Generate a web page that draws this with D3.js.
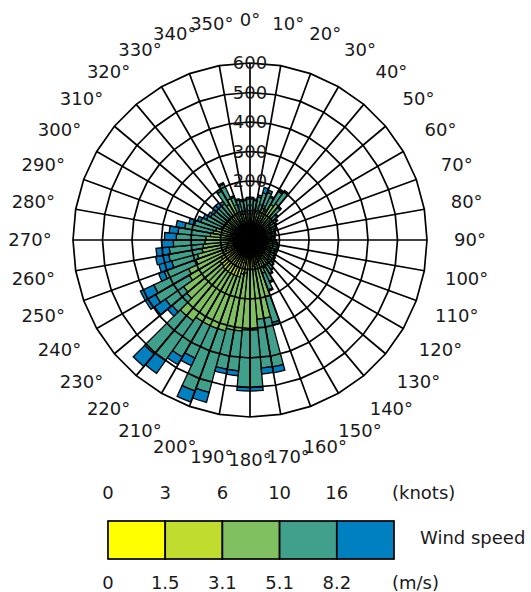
<!DOCTYPE html>
<html>
<head>
<meta charset="utf-8">
<script src="https://cdn.jsdelivr.net/npm/d3@7"></script>
<style>
  html, body { margin: 0; padding: 0; background: #fff; }
  svg { display: block; }
</style>
</head>
<body>
<div class="rose"></div>
<script>
var width = 531;
var height = 592;

// start angle of every 5 degree direction bin
var directions = [0, 5, 10, 15, 20, 25, 30, 35, 40, 45, 50, 55, 60, 65, 70, 75, 80, 85,
  90, 95, 100, 105, 110, 115, 120, 125, 130, 135, 140, 145, 150, 155, 160, 165, 170, 175,
  180, 185, 190, 195, 200, 205, 210, 215, 220, 225, 230, 235, 240, 245, 250, 255, 260, 265,
  270, 275, 280, 285, 290, 295, 300, 305, 310, 315, 320, 325, 330, 335, 340, 345, 350, 355];

// counts per speed class (0-1.5, 1.5-3.1, 3.1-5.1, 5.1-8.2, >8.2 m/s)
var speed1 = [25, 25, 25, 25, 25, 25, 25, 25, 25, 25, 25, 25, 25, 25, 25, 25, 25, 25,
  25, 25, 25, 25, 25, 25, 25, 25, 25, 28, 28, 28, 30, 30, 30, 30, 30, 35,
  35, 38, 38, 40, 40, 40, 40, 40, 40, 40, 40, 38, 35, 35, 35, 30, 30, 28,
  28, 28, 27, 27, 26, 26, 25, 25, 25, 25, 25, 25, 25, 25, 25, 25, 25, 25];
var speed2 = [30, 30, 30, 30, 35, 35, 35, 35, 30, 30, 30, 30, 30, 30, 30, 30, 28, 28,
  30, 30, 32, 32, 30, 30, 32, 33, 35, 35, 37, 40, 40, 45, 50, 55, 60, 65,
  65, 75, 80, 90, 90, 90, 90, 90, 90, 85, 85, 75, 65, 55, 50, 50, 45, 45,
  45, 42, 40, 38, 35, 33, 32, 32, 32, 32, 32, 35, 35, 30, 30, 30, 30, 30];
var speed3 = [35, 35, 45, 50, 55, 50, 80, 90, 45, 35, 30, 25, 25, 22, 20, 20, 20, 20,
  20, 22, 23, 23, 22, 22, 23, 25, 25, 27, 30, 32, 35, 45, 120, 185, 180, 205,
  205, 197, 192, 190, 190, 190, 190, 205, 205, 155, 150, 125, 130, 105, 100, 85, 85, 80,
  77, 65, 60, 55, 45, 42, 40, 40, 40, 40, 40, 80, 95, 45, 38, 35, 35, 35];
var speed4 = [50, 45, 48, 60, 57, 50, 50, 50, 45, 30, 25, 20, 17, 15, 12, 12, 10, 10,
  12, 15, 17, 17, 15, 15, 17, 19, 22, 22, 27, 30, 50, 60, 90, 167, 166, 195,
  195, 135, 135, 215, 225, 122, 138, 165, 170, 65, 75, 132, 130, 115, 90, 115, 115, 107,
  100, 110, 98, 75, 72, 62, 58, 53, 53, 53, 53, 52, 55, 55, 47, 45, 45, 50];
var speed5 = [5, 5, 7, 20, 8, 5, 5, 5, 5, 5, 5, 5, 3, 3, 3, 3, 2, 2,
  3, 3, 3, 3, 3, 3, 3, 3, 3, 3, 3, 5, 5, 5, 10, 20, 20, 12,
  12, 17, 15, 35, 40, 28, 30, 52, 55, 20, 45, 40, 50, 20, 45, 45, 45, 40,
  40, 30, 30, 20, 12, 12, 10, 10, 15, 15, 10, 8, 5, 5, 5, 5, 5, 5];

var speedColors = ['#ffff00', '#c0dc2e', '#80c060', '#40a08c', '#0080c0'];
var knotLabels = ['0', '3', '6', '10', '16'];
var msLabels = ['0', '1.5', '3.1', '5.1', '8.2'];
var radialTicks = [100, 200, 300, 400, 500, 600];
var angleTicks = [0, 10, 20, 30, 40, 50, 60, 70, 80, 90, 100, 110, 120, 130, 140, 150, 160, 170,
  180, 190, 200, 210, 220, 230, 240, 250, 260, 270, 280, 290, 300, 310, 320, 330, 340, 350];

var keys = ['s1', 's2', 's3', 's4', 's5'];
var rows = directions.map((d, i) => ({
  dir: d, s1: speed1[i], s2: speed2[i], s3: speed3[i], s4: speed4[i], s5: speed5[i]
}));
var series = d3.stack().keys(keys)(rows);

var cx = 250, cy = 240;
var r = d3.scaleLinear().domain([0, 600]).range([0, 177]);
var rad = d => d * Math.PI / 180;
var color = d3.scaleOrdinal().domain(keys).range(speedColors);

var font = '"DejaVu Sans", Verdana, sans-serif';
var fs = 18;
var ink = '#1a1a1a';

var svg = d3.select('.rose').append('svg')
  .attr('width', width).attr('height', height)
  .style('background', '#fff');

var g = svg.append('g').attr('transform', `translate(${cx},${cy})`);

var arc = d3.arc()
  .innerRadius(d => r(d[0]))
  .outerRadius(d => r(d[1]))
  .startAngle(d => rad(d.data.dir))
  .endAngle(d => rad(d.data.dir + 5));

g.selectAll('g.layer')
  .data(series)
  .enter().append('g')
    .attr('class', 'layer')
    .attr('fill', d => color(d.key))
  .selectAll('path')
  .data(d => d)
  .enter().append('path')
    .attr('d', arc)
    .attr('stroke', '#000')
    .attr('stroke-width', 1.3);

// grid on top of the bars
var ring = d3.lineRadial()
  .angle(a => rad(a))
  .curve(d3.curveLinearClosed);

g.selectAll('path.ring')
  .data(radialTicks)
  .enter().append('path')
    .attr('class', 'ring')
    .attr('d', v => ring.radius(r(v))(angleTicks))
    .attr('fill', 'none')
    .attr('stroke', '#000')
    .attr('stroke-width', 1.7);

g.selectAll('line.spoke')
  .data(angleTicks)
  .enter().append('line')
    .attr('class', 'spoke')
    .attr('x1', 0).attr('y1', 0)
    .attr('x2', a => r(600) * Math.sin(rad(a)))
    .attr('y2', a => -r(600) * Math.cos(rad(a)))
    .attr('stroke', '#000')
    .attr('stroke-width', 1.7);

// radial labels
g.selectAll('text.rlab')
  .data(radialTicks)
  .enter().append('text')
    .attr('class', 'rlab')
    .attr('x', 0)
    .attr('y', v => -r(v))
    .attr('dy', '0.35em')
    .attr('text-anchor', 'middle')
    .attr('font-family', font)
    .attr('font-size', fs)
    .attr('fill', ink)
    .text(v => v);

// direction labels
var labR = 220;
g.selectAll('text.alab')
  .data(angleTicks)
  .enter().append('text')
    .attr('class', 'alab')
    .attr('x', a => labR * Math.sin(rad(a)))
    .attr('y', a => -labR * Math.cos(rad(a)))
    .attr('dy', '0.35em')
    .attr('text-anchor', 'middle')
    .attr('font-family', font)
    .attr('font-size', fs)
    .attr('fill', ink)
    .text(a => a + '\u00b0');

// legend
var band = d3.scaleBand().domain(keys).range([108, 394]);
var leg = svg.append('g');

leg.selectAll('rect')
  .data(keys)
  .enter().append('rect')
    .attr('x', k => band(k))
    .attr('y', 521)
    .attr('width', band.bandwidth())
    .attr('height', 38)
    .attr('fill', k => color(k))
    .attr('stroke', '#000')
    .attr('stroke-width', 1.7);

leg.selectAll('text.knots')
  .data(keys)
  .enter().append('text')
    .attr('class', 'knots')
    .attr('x', k => band(k))
    .attr('y', 493)
    .attr('dy', '0.35em')
    .attr('text-anchor', 'middle')
    .attr('font-family', font)
    .attr('font-size', fs)
    .attr('fill', ink)
    .text((k, i) => knotLabels[i]);

leg.selectAll('text.ms')
  .data(keys)
  .enter().append('text')
    .attr('class', 'ms')
    .attr('x', k => band(k))
    .attr('y', 583)
    .attr('dy', '0.35em')
    .attr('text-anchor', 'middle')
    .attr('font-family', font)
    .attr('font-size', fs)
    .attr('fill', ink)
    .text((k, i) => msLabels[i]);

leg.append('text')
  .attr('x', 392).attr('y', 493).attr('dy', '0.35em')
  .attr('font-family', font).attr('font-size', fs).attr('fill', ink)
  .text('(knots)');

leg.append('text')
  .attr('x', 392).attr('y', 583).attr('dy', '0.35em')
  .attr('font-family', font).attr('font-size', fs).attr('fill', ink)
  .text('(m/s)');

leg.append('text')
  .attr('x', 420).attr('y', 538).attr('dy', '0.35em')
  .attr('font-family', font).attr('font-size', fs).attr('fill', ink)
  .text('Wind speed');
</script>
</body>
</html>
